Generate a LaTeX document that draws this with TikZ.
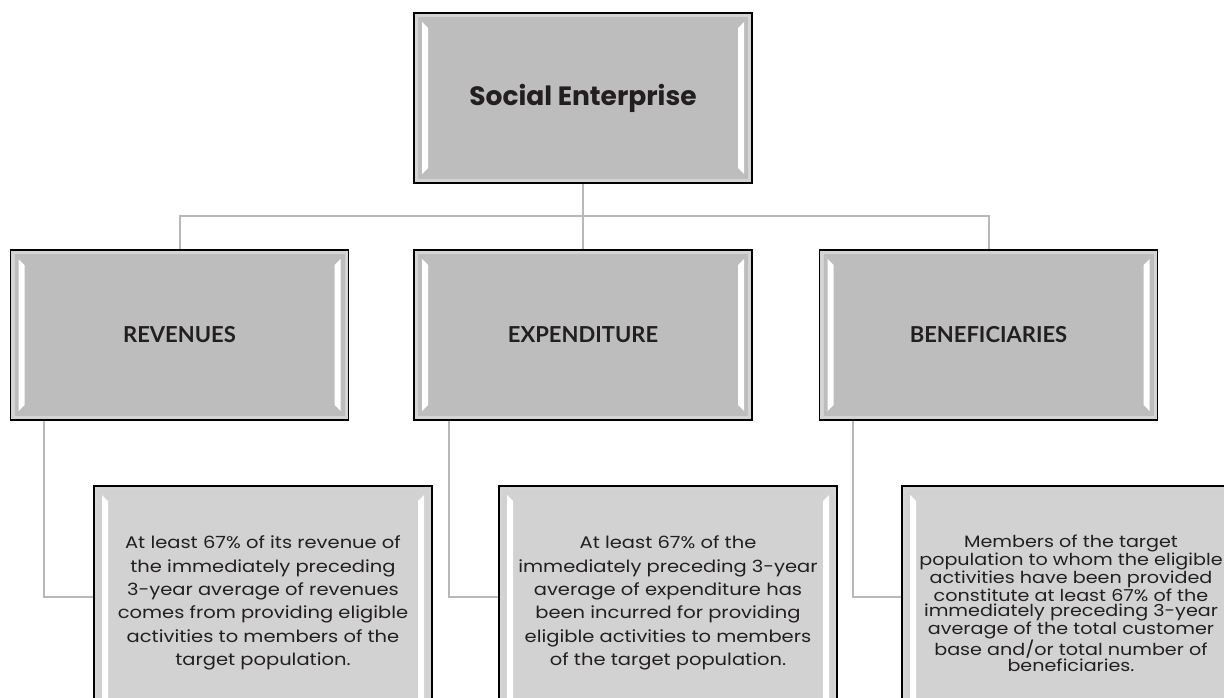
\documentclass[tikz,border=0pt]{standalone}
\usepackage{fontspec}
\setmainfont{Poppins}
\newfontfamily\headfont{Lato}
\newfontfamily\notefont[FakeStretch=1.16]{Poppins}
\usepackage{tikz}
\usetikzlibrary{positioning}
\definecolor{boxgray}{HTML}{BDBDBD}
\definecolor{notegray}{HTML}{D2D2D2}
\definecolor{ringgray}{HTML}{D4D4D4}
\definecolor{linkgray}{HTML}{B8B8B8}
\definecolor{inkgray}{HTML}{231F20}
\tikzset{
    bevel/.style = {path picture={
        \draw[ringgray, line width=8pt] (path picture bounding box.south west) rectangle (path picture bounding box.north east);
        \fill[white] ([shift={(8pt,-9pt)}]path picture bounding box.north west) -- ([shift={(14pt,-15pt)}]path picture bounding box.north west)
            -- ([shift={(14pt,15pt)}]path picture bounding box.south west) -- ([shift={(8pt,9pt)}]path picture bounding box.south west) -- cycle;
        \fill[white] ([shift={(-8pt,-9pt)}]path picture bounding box.north east) -- ([shift={(-14pt,-15pt)}]path picture bounding box.north east)
            -- ([shift={(-14pt,15pt)}]path picture bounding box.south east) -- ([shift={(-8pt,9pt)}]path picture bounding box.south east) -- cycle;
    }},
    headbox/.style = {rectangle, bevel, minimum width=338pt, minimum height=170pt, draw=black, line width=1.5pt, fill=boxgray, text=inkgray, align=center,
        font=\headfont\fontsize{22}{26}\selectfont\bfseries},
    notebox/.style = {rectangle, bevel, minimum width=338pt, minimum height=234pt, draw=black, line width=1.5pt, fill=notegray, text=inkgray, align=center,
        font=\notefont\fontsize{16.8}{23.4}\selectfont},
    link/.style = {draw=linkgray, line width=2pt}
}

\begin{document}
\begin{tikzpicture}[x=1pt, y=-1pt]
\useasboundingbox (0,0) rectangle (1224,698);

\node (social) [headbox, font=\fontsize{26.5}{30}\selectfont\bfseries] at (583,98) {Social Enterprise};

\node (expend) [headbox] at (583,335) {EXPENDITURE};
\node (reven) [headbox, left=64pt of expend] {REVENUES};
\node (benef) [headbox, right=66pt of expend] {BENEFICIARIES};

\node (revnote) [notebox] at (263,603) {At least 67\% of its revenue of\\the immediately preceding\\3-year average of revenues\\comes from providing eligible\\activities to members of the\\target population.};
\node (expnote) [notebox] at (668,603) {At least 67\% of the\\immediately preceding 3-year\\average of expenditure has\\been incurred for providing\\eligible activities to members\\of the target population.};
\node (bennote) [notebox, font=\notefont\fontsize{16.5}{15.6}\selectfont] at (1071,603) {Members of the target\\population to whom the eligible\\activities have been provided\\constitute at least 67\% of the\\immediately preceding 3-year\\average of the total customer\\base and/or total number of\\beneficiaries.};

% tree links
\coordinate (bus) at (583,216);
\draw [link] (social) -- (bus) -- (expend);
\draw [link] (bus) -| (reven);
\draw [link] (bus) -| (benef);

\draw [link] ([xshift=34pt]reven.south west) |- ([yshift=6pt]revnote.west);
\draw [link] ([xshift=36pt]expend.south west) |- ([yshift=6pt]expnote.west);
\draw [link] ([xshift=34pt]benef.south west) |- ([yshift=6pt]bennote.west);
\end{tikzpicture}
\end{document}
